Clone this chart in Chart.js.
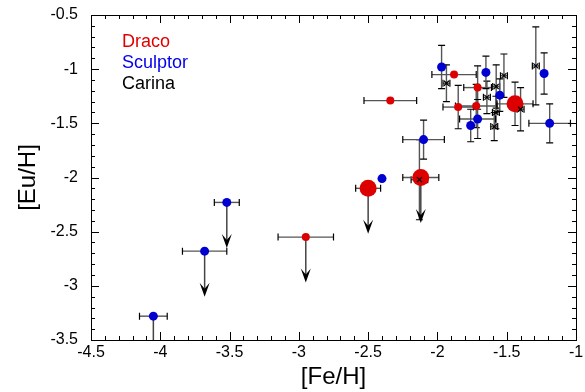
<!DOCTYPE html>
<html>
<head>
<meta charset="utf-8">
<script src="https://cdn.jsdelivr.net/npm/chart.js@4.4.0/dist/chart.umd.min.js"></script>
<style>
html, body { margin: 0; padding: 0; background: #fff; }
</style>
</head>
<body>
<canvas id="euChart" width="585" height="392"></canvas>
<script>
// tick labels
const xTicks = [-4.5, -4, -3.5, -3, -2.5, -2, -1.5, -1];
const yTicks = [-3.5, -3, -2.5, -2, -1.5, -1, -0.5];
const seriesNames = ['Draco', 'Sculptor', 'Carina'];

// Draco
const dracoFe    = [-2.50, -2.12, -2.95, -2.34, -1.88, -1.71, -1.85, -1.72, -1.44];
const dracoEu    = [-2.10, -2.00, -2.55, -1.29, -1.05, -1.17, -1.35, -1.34, -1.32];
const dracoFeErr = [0.09, 0.13, 0.20, 0.19, 0.16, 0.10, 0.11, 0.15, 0.13];
const dracoEuErr = [0, 0, 0, 0, 0, 0.20, 0.20, 0.20, 0.20];
const dracoLimit = [true, true, true, false, false, false, false, false, false];
const dracoBig   = [true, true, false, false, false, false, false, false, true];

// Sculptor
const sculptorFe    = [-4.05, -3.68, -3.52, -2.40, -2.10, -1.97, -1.65, -1.55, -1.71, -1.76, -1.23, -1.19];
const sculptorEu    = [-3.28, -2.68, -2.23, -2.01, -1.65, -0.98, -1.03, -1.24, -1.46, -1.52, -1.04, -1.50];
const sculptorFeErr = [0.10, 0.16, 0.09, 0, 0.15, 0, 0, 0, 0.13, 0, 0, 0.15];
const sculptorEuErr = [0, 0, 0, 0, 0.18, 0.20, 0.15, 0.15, 0.18, 0.15, 0.19, 0.18];
const sculptorLimit = [true, true, true, false, false, false, false, false, false, false, false, false];

// Carina
const carinaFe    = [-1.29, -1.52, -1.935, -1.576, -1.643, -1.578, -1.59, -1.40, -2.13];
const carinaEu    = [-0.97, -1.06, -1.13, -1.16, -1.26, -1.40, -1.53, -1.37, -2.02];
const carinaFeErr = [0.025, 0.025, 0.025, 0.025, 0.025, 0.025, 0.025, 0.025, 0.06];
const carinaEuErr = [0.36, 0.20, 0.17, 0.20, 0.15, 0.15, 0.13, 0.20, 0.37];

const arrowDrop = 0.42;

function toPoints(xs, ys) {
    return xs.map((v, i) => ({ x: v, y: ys[i] }));
}

const frameTicks = {
    id: 'frameTicks',
    afterDraw(chart) {
        const { ctx, chartArea: a } = chart;
        ctx.save();
        ctx.strokeStyle = '#000';
        ctx.lineWidth = 1;
        ctx.strokeRect(Math.round(a.left) + 0.5, Math.round(a.top) + 0.5,
            Math.round(a.right - a.left), Math.round(a.bottom - a.top));
        ctx.beginPath();
        for (let k = 0; k <= 35; k++) {
            const px = Math.round(chart.scales.x.getPixelForValue(-4.5 + k * 0.1)) + 0.5;
            const len = k % 5 === 0 ? 8 : 4;
            ctx.moveTo(px, a.bottom); ctx.lineTo(px, a.bottom - len);
            ctx.moveTo(px, a.top); ctx.lineTo(px, a.top + len);
        }
        for (let k = 0; k <= 30; k++) {
            const py = Math.round(chart.scales.y.getPixelForValue(-3.5 + k * 0.1)) + 0.5;
            const len = k % 5 === 0 ? 8 : 4;
            ctx.moveTo(a.left, py); ctx.lineTo(a.left + len, py);
            ctx.moveTo(a.right, py); ctx.lineTo(a.right - len, py);
        }
        ctx.stroke();

        // legend text
        const colors = ['#e00000', '#0000ee', '#000'];
        ctx.font = '18px "Liberation Sans", Arial, sans-serif';
        ctx.textBaseline = 'middle';
        ctx.textAlign = 'left';
        seriesNames.forEach((n, i) => {
            ctx.fillStyle = colors[i];
            ctx.fillText(n, 122, 42 + i * 21);
        });
        ctx.restore();
    }
};

const errorBars = {
    id: 'errorBars',
    beforeDatasetsDraw(chart) {
        const { ctx, chartArea: a, scales: { x, y } } = chart;
        ctx.save();
        ctx.beginPath();
        ctx.rect(a.left, a.top, a.right - a.left, a.bottom - a.top);
        ctx.clip();
        chart.data.datasets.forEach(ds => {
            ds.data.forEach((p, i) => {
                const px = x.getPixelForValue(p.x);
                const py = y.getPixelForValue(p.y);
                const xe = ds.xErr[i], ye = ds.yErr[i];
                if (xe) {
                    const l = x.getPixelForValue(p.x - xe), r = x.getPixelForValue(p.x + xe);
                    ctx.strokeStyle = '#555'; ctx.lineWidth = 1.4;
                    ctx.beginPath(); ctx.moveTo(l, py); ctx.lineTo(r, py); ctx.stroke();
                    ctx.strokeStyle = '#000'; ctx.lineWidth = 1.2;
                    ctx.beginPath();
                    ctx.moveTo(l, py - 3.5); ctx.lineTo(l, py + 3.5);
                    ctx.moveTo(r, py - 3.5); ctx.lineTo(r, py + 3.5);
                    ctx.stroke();
                }
                if (ye) {
                    const t = y.getPixelForValue(p.y + ye), b = y.getPixelForValue(p.y - ye);
                    ctx.strokeStyle = '#555'; ctx.lineWidth = 1.4;
                    ctx.beginPath(); ctx.moveTo(px, t); ctx.lineTo(px, b); ctx.stroke();
                    ctx.strokeStyle = '#000'; ctx.lineWidth = 1.2;
                    ctx.beginPath();
                    ctx.moveTo(px - 3.5, t); ctx.lineTo(px + 3.5, t);
                    ctx.moveTo(px - 3.5, b); ctx.lineTo(px + 3.5, b);
                    ctx.stroke();
                }
                if (ds.limit && ds.limit[i]) {
                    const tip = y.getPixelForValue(p.y - arrowDrop);
                    ctx.strokeStyle = '#444'; ctx.lineWidth = 1.5;
                    ctx.beginPath(); ctx.moveTo(px, py); ctx.lineTo(px, tip - 6); ctx.stroke();
                    ctx.fillStyle = '#000';
                    ctx.beginPath();
                    ctx.moveTo(px, tip);
                    ctx.lineTo(px - 5, tip - 14);
                    ctx.lineTo(px, tip - 8);
                    ctx.lineTo(px + 5, tip - 14);
                    ctx.closePath();
                    ctx.fill();
                }
            });
        });
        ctx.restore();
    }
};

const tickFont = { family: '"Liberation Sans", Arial, sans-serif', size: 16 };
const titleFont = { family: '"Liberation Sans", Arial, sans-serif', size: 24 };

new Chart(document.getElementById('euChart'), {
    type: 'scatter',
    data: {
        datasets: [
            {
                label: seriesNames[2],
                data: toPoints(carinaFe, carinaEu),
                xErr: carinaFeErr, yErr: carinaEuErr,
                pointStyle: 'crossRot', pointRadius: 3.5,
                borderColor: '#000', borderWidth: 1.2,
                order: 0
            },
            {
                label: seriesNames[0],
                data: toPoints(dracoFe, dracoEu),
                xErr: dracoFeErr, yErr: dracoEuErr, limit: dracoLimit,
                pointRadius: dracoBig.map(b => b ? 8.5 : 4),
                backgroundColor: '#dd0000', borderWidth: 0,
                order: 1
            },
            {
                label: seriesNames[1],
                data: toPoints(sculptorFe, sculptorEu),
                xErr: sculptorFeErr, yErr: sculptorEuErr, limit: sculptorLimit,
                pointRadius: 4.5,
                backgroundColor: '#0000d0', borderWidth: 0,
                order: 2
            }
        ]
    },
    options: {
        responsive: false,
        animation: false,
        layout: { padding: { left: 0, right: 9, top: 15, bottom: 0 } },
        plugins: { legend: { display: false }, tooltip: { enabled: false } },
        scales: {
            x: {
                type: 'linear', min: -4.5, max: -1,
                afterBuildTicks: s => { s.ticks = xTicks.map(v => ({ value: v })); },
                afterFit: s => { s.height = 52; s.paddingLeft = 0; s.paddingRight = 0; },
                grid: { display: false, drawTicks: false },
                border: { display: false },
                ticks: { font: tickFont, color: '#000', padding: 3, maxRotation: 0, callback: v => String(v) },
                title: { display: true, text: '[Fe/H]', font: titleFont, color: '#000', padding: { top: 0, bottom: 0 } }
            },
            y: {
                type: 'linear', min: -3.5, max: -0.5,
                afterBuildTicks: s => { s.ticks = yTicks.map(v => ({ value: v })); },
                afterFit: s => { s.width = 91; s.paddingTop = 0; s.paddingBottom = 0; },
                grid: { display: false, drawTicks: false },
                border: { display: false },
                ticks: { font: tickFont, color: '#000', padding: 13, callback: v => String(v) },
                title: { display: true, text: '[Eu/H]', font: titleFont, color: '#000', padding: { top: 13.5, bottom: 0 } }
            }
        }
    },
    plugins: [errorBars, frameTicks]
});
</script>
</body>
</html>
